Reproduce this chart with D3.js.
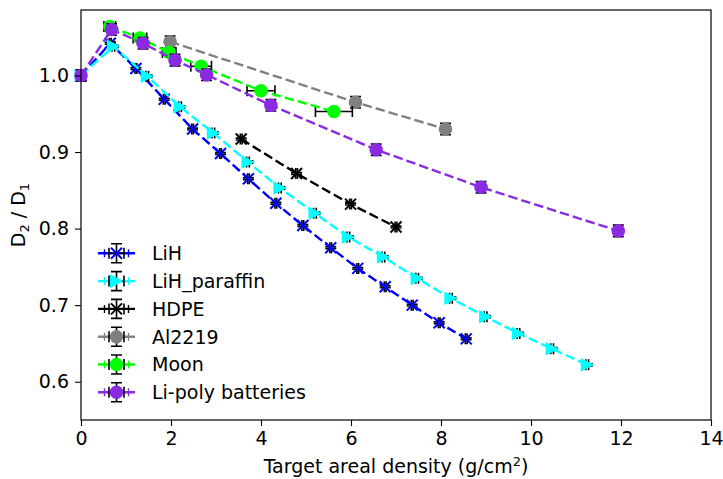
<!DOCTYPE html>
<html>
<head>
<meta charset="utf-8">
<script src="https://cdn.jsdelivr.net/npm/d3@7"></script>
<style>
  body { margin: 0; background: #fff; }
  svg { font-family: "DejaVu Sans", sans-serif; }
</style>
</head>
<body>
<svg width="723" height="479"></svg>
<script>
const width = 723;
const height = 479;
const fontSize = 19;

// series names, colors, markers
const names = ["LiH", "LiH_paraffin", "HDPE", "Al2219", "Moon", "Li-poly batteries"];
const colors = ["#0000ff", "#00ffff", "#000000", "#808080", "#00ff00", "#8a2be2"];
const markers = ["x", ">", "x", "o", "o", "o"];

// values
const lihX = [0, 0.65, 1.22, 1.85, 2.48, 3.10, 3.72, 4.33, 4.93, 5.55, 6.15, 6.76, 7.36, 7.96, 8.56];
const lihY = [1.0, 1.042, 1.009, 0.969, 0.930, 0.898, 0.865, 0.833, 0.804, 0.775, 0.748, 0.724, 0.700, 0.677, 0.656];
const parX = [0, 0.72, 1.47, 2.20, 2.94, 3.71, 4.42, 5.20, 5.94, 6.72, 7.47, 8.22, 8.99, 9.72, 10.47, 11.25];
const parY = [1.0, 1.038, 0.999, 0.959, 0.925, 0.887, 0.853, 0.820, 0.789, 0.763, 0.735, 0.709, 0.685, 0.663, 0.643, 0.622];
const hdpeX = [3.56, 4.79, 5.99, 7.0];
const hdpeY = [0.917, 0.872, 0.832, 0.802];
const alX = [1.98, 6.10, 8.10];
const alY = [1.044, 0.965, 0.930];
const moonX = [0.64, 1.31, 1.96, 2.67, 4.0, 5.62];
const moonY = [1.064, 1.049, 1.030, 1.012, 0.980, 0.953];
const moonXErr = [0.13, 0.15, 0.15, 0.23, 0.31, 0.41];
const polyX = [0, 0.68, 1.38, 2.09, 2.79, 4.22, 6.56, 8.89, 11.94];
const polyY = [1.0, 1.060, 1.042, 1.020, 1.001, 0.961, 0.903, 0.854, 0.797];

const xTicks = [0, 2, 4, 6, 8, 10, 12, 14];
const yTicks = [0.6, 0.7, 0.8, 0.9, 1.0];

const series = [
  { x: lihX, y: lihY, xErr: lihX.map(() => 0.02), yErr: lihY.map(() => 0.0012) },
  { x: parX, y: parY, xErr: parX.map(() => 0.03), yErr: parY.map(() => 0.0015) },
  { x: hdpeX, y: hdpeY, xErr: hdpeX.map(() => 0.02), yErr: hdpeY.map(() => 0.0012) },
  { x: alX, y: alY, xErr: alX.map(() => 0.08), yErr: alY.map(() => 0.0075) },
  { x: moonX, y: moonY, xErr: moonXErr, yErr: moonY.map(() => 0.003) },
  { x: polyX, y: polyY, xErr: polyX.map(() => 0.08), yErr: polyY.map(() => 0.0075) }
].map((s, i) => ({
  ...s,
  name: names[i],
  color: colors[i],
  marker: markers[i],
  points: s.x.map((v, j) => ({ x: v, y: s.y[j], ex: s.xErr[j], ey: s.yErr[j] }))
}));

const margin = { left: 81, right: 12, top: 10, bottom: 59 };
const x = d3.scaleLinear().domain([0, 14]).range([margin.left, width - margin.right]);
const y = d3.scaleLinear().domain([0.55, 1.0855]).range([height - margin.bottom, margin.top]);

const svg = d3.select("svg");
const capSize = 5.5;

const drawMarker = (g, marker, color) => {
  if (marker === "o") {
    g.append("circle").attr("r", 6.8).attr("fill", color);
  } else if (marker === ">") {
    g.append("path").attr("d", "M7,0L-6.5,-6.8L-6.5,6.8Z").attr("fill", color);
  } else {
    g.append("path")
      .attr("d", "M-5.5,-5.5L5.5,5.5M-5.5,5.5L5.5,-5.5")
      .attr("stroke", color)
      .attr("stroke-width", 2);
  }
};

const drawErr = (g, dx, dy) => {
  const p = `M${-dx},0H${dx}M0,${-dy}V${dy}` +
    `M${-dx},${-capSize}V${capSize}M${dx},${-capSize}V${capSize}` +
    `M${-capSize},${-dy}H${capSize}M${-capSize},${dy}H${capSize}`;
  g.append("path").attr("d", p).attr("stroke", "#000").attr("stroke-width", 1.6).attr("fill", "none");
};

const line = d3.line().x(d => x(d.x)).y(d => y(d.y));
const plot = svg.append("g");

series.forEach(s => {
  const g = plot.append("g");
  s.points.forEach(p => {
    const eg = g.append("g").attr("transform", `translate(${x(p.x)},${y(p.y)})`);
    drawErr(eg, x(p.x + p.ex) - x(p.x), y(p.y) - y(p.y + p.ey));
  });
  g.append("path")
    .datum(s.points)
    .attr("d", line)
    .attr("fill", "none")
    .attr("stroke", s.color)
    .attr("stroke-width", 2.4)
    .attr("stroke-dasharray", "9.5,4");
  s.points.forEach(p => {
    const mg = g.append("g").attr("transform", `translate(${x(p.x)},${y(p.y)})`);
    drawMarker(mg, s.marker, s.color);
  });
});

// axes
const xAxis = svg.append("g")
  .attr("transform", `translate(0,${height - margin.bottom})`)
  .call(d3.axisBottom(x).tickValues(xTicks).tickSize(6).tickPadding(6).tickFormat(d3.format("d")));
const yAxis = svg.append("g")
  .attr("transform", `translate(${margin.left},0)`)
  .call(d3.axisLeft(y).tickValues(yTicks).tickSize(6).tickPadding(6).tickFormat(d3.format(".1f")));

[xAxis, yAxis].forEach(a => {
  a.select(".domain").remove();
  a.selectAll("text").attr("font-size", fontSize).attr("font-family", "DejaVu Sans").attr("fill", "#000");
  a.selectAll("line").attr("stroke", "#000").attr("stroke-width", 1.1);
});

svg.append("rect")
  .attr("x", margin.left)
  .attr("y", margin.top)
  .attr("width", width - margin.left - margin.right)
  .attr("height", height - margin.top - margin.bottom)
  .attr("fill", "none")
  .attr("stroke", "#000")
  .attr("stroke-width", 1.2);

// axis labels
svg.append("text")
  .attr("x", (margin.left + width - margin.right) / 2)
  .attr("y", 473)
  .attr("text-anchor", "middle")
  .attr("font-size", fontSize)
  .html('Target areal density (g/cm<tspan dy="-7" font-size="13">2</tspan><tspan dy="7">)</tspan>');

const ylab = svg.append("text")
  .attr("transform", `translate(25,${(margin.top + height - margin.bottom) / 2}) rotate(-90)`)
  .attr("text-anchor", "middle")
  .attr("font-size", fontSize);
ylab.append("tspan").text("D");
ylab.append("tspan").attr("dy", 4).attr("font-size", 13).text("2");
ylab.append("tspan").attr("dy", -4).text(" / D");
ylab.append("tspan").attr("dy", 4).attr("font-size", 13).text("1");

// legend
const legend = svg.append("g");
series.forEach((s, i) => {
  const ly = 253.3 + i * 27.8;
  const g = legend.append("g").attr("transform", `translate(116.5,${ly})`);
  g.append("path")
    .attr("d", "M-18.5,0H18.5")
    .attr("stroke", s.color)
    .attr("stroke-width", 2.4);
  g.append("path").attr("d", "M-12,-4V4M12,-4V4")
    .attr("stroke", s.color).attr("stroke-width", 1.4);
  drawErr(g, 7.5, 9.5);
  drawMarker(g, s.marker, s.color);
  legend.append("text")
    .attr("x", 152)
    .attr("y", ly)
    .attr("dy", "0.36em")
    .attr("font-size", fontSize)
    .text(s.name);
});
</script>
</body>
</html>
